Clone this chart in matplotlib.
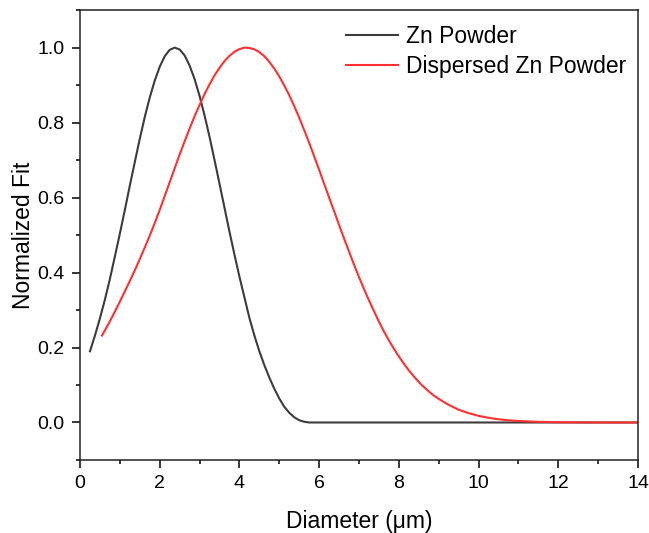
import matplotlib
matplotlib.use("Agg")
import matplotlib.pyplot as plt
from matplotlib.ticker import MultipleLocator, FormatStrFormatter

# Normalized size-distribution fits (diameter in um)
zn_diameter = [0.25, 0.375, 0.5, 0.625, 0.75, 0.875, 1.0, 1.125, 1.25, 1.375, 1.5, 1.625,
               1.75, 1.875, 2.0, 2.125, 2.25, 2.375, 2.5, 2.625, 2.75, 2.875, 3.0, 3.125,
               3.25, 3.375, 3.5, 3.625, 3.75, 3.875, 4.0, 4.125, 4.25, 4.375, 4.5, 4.625,
               4.75, 4.875, 5.0, 5.125, 5.25, 5.375, 5.5, 5.625, 5.75, 6.0, 8.0, 10.0,
               12.0, 14.0]
zn_fit = [0.19, 0.232, 0.278, 0.328, 0.383, 0.443, 0.504, 0.567, 0.632, 0.695, 0.757, 0.815,
          0.867, 0.912, 0.949, 0.977, 0.994, 1.0, 0.995, 0.979, 0.952, 0.916, 0.871, 0.819,
          0.762, 0.7, 0.637, 0.573, 0.509, 0.448, 0.389, 0.334, 0.279, 0.232, 0.19, 0.153,
          0.12, 0.09, 0.064, 0.042, 0.026, 0.014, 0.006, 0.002, 0.0, 0.0, 0.0, 0.0,
          0.0, 0.0]

disp_diameter = [0.55, 0.625, 0.75, 0.875, 1.0, 1.125, 1.25, 1.375, 1.5, 1.625, 1.75, 1.875,
                 2.0, 2.125, 2.25, 2.375, 2.5, 2.625, 2.75, 2.875, 3.0, 3.125, 3.25, 3.375,
                 3.5, 3.625, 3.75, 3.875, 4.0, 4.125, 4.25, 4.375, 4.5, 4.625, 4.75, 4.875,
                 5.0, 5.125, 5.25, 5.375, 5.5, 5.625, 5.75, 5.875, 6.0, 6.125, 6.25, 6.375,
                 6.5, 6.625, 6.75, 6.875, 7.0, 7.125, 7.25, 7.375, 7.5, 7.625, 7.75, 7.875,
                 8.0, 8.125, 8.25, 8.375, 8.5, 8.625, 8.75, 8.875, 9.0, 9.25, 9.5, 9.75,
                 10.0, 10.25, 10.5, 10.75, 11.0, 11.5, 12.0, 12.5, 13.0, 14.0]
disp_fit = [0.232, 0.246, 0.27, 0.296, 0.3225, 0.35, 0.3775, 0.406, 0.436, 0.467, 0.4985, 0.532,
            0.567, 0.604, 0.641, 0.678, 0.715, 0.75, 0.784, 0.817, 0.847, 0.876, 0.902, 0.926,
            0.946, 0.964, 0.978, 0.989, 0.996, 1.0, 0.999, 0.9955, 0.988, 0.977, 0.962, 0.944,
            0.923, 0.899, 0.873, 0.844, 0.813, 0.78, 0.746, 0.71, 0.674, 0.637, 0.6, 0.564,
            0.527, 0.491, 0.456, 0.421, 0.388, 0.356, 0.326, 0.297, 0.269, 0.243, 0.219, 0.197,
            0.176, 0.157, 0.139, 0.123, 0.108, 0.095, 0.083, 0.072, 0.063, 0.047, 0.034, 0.025,
            0.0177, 0.0125, 0.0086, 0.0059, 0.0039, 0.0017, 0.0007, 0.0003, 0.0001, 0.0]

plt.rcParams["font.family"] = ["Liberation Sans", "DejaVu Sans"]

fig = plt.figure(figsize=(6.49, 5.33), dpi=100)
ax = fig.add_axes([0.1233, 0.137, 0.8597, 0.844])

ax.plot(zn_diameter, zn_fit, color="#3c3c3c", linewidth=1.5, label="Zn Powder")
ax.plot(disp_diameter, disp_fit, color="#ff3030", linewidth=1.5, label="Dispersed Zn Powder")

ax.set_xlim(0, 14)
ax.set_ylim(-0.1, 1.1)
ax.xaxis.set_major_locator(MultipleLocator(2))
ax.xaxis.set_minor_locator(MultipleLocator(1))
ax.yaxis.set_major_locator(MultipleLocator(0.2))
ax.yaxis.set_minor_locator(MultipleLocator(0.1))
ax.yaxis.set_major_formatter(FormatStrFormatter("%.1f"))

ax.tick_params(which="major", direction="out", length=6, width=1.1, labelsize=14, pad=5)
ax.tick_params(which="minor", direction="out", length=3, width=1.1)
for side in ax.spines.values():
    side.set_linewidth(1.1)
    side.set_color("#222222")

ax.set_xlabel("Diameter (\u03bcm)", fontsize=16.5, labelpad=13)
ax.set_ylabel("Normalized Fit", fontsize=16.5, labelpad=1.5)

ax.legend(loc="upper left", bbox_to_anchor=(0.4475, 1.0015), frameon=False, fontsize=16.5,
          handlelength=2.3, handletextpad=0.35, labelspacing=0.3, borderaxespad=0.3)

fig.savefig("out.png", dpi=100, facecolor="white")
